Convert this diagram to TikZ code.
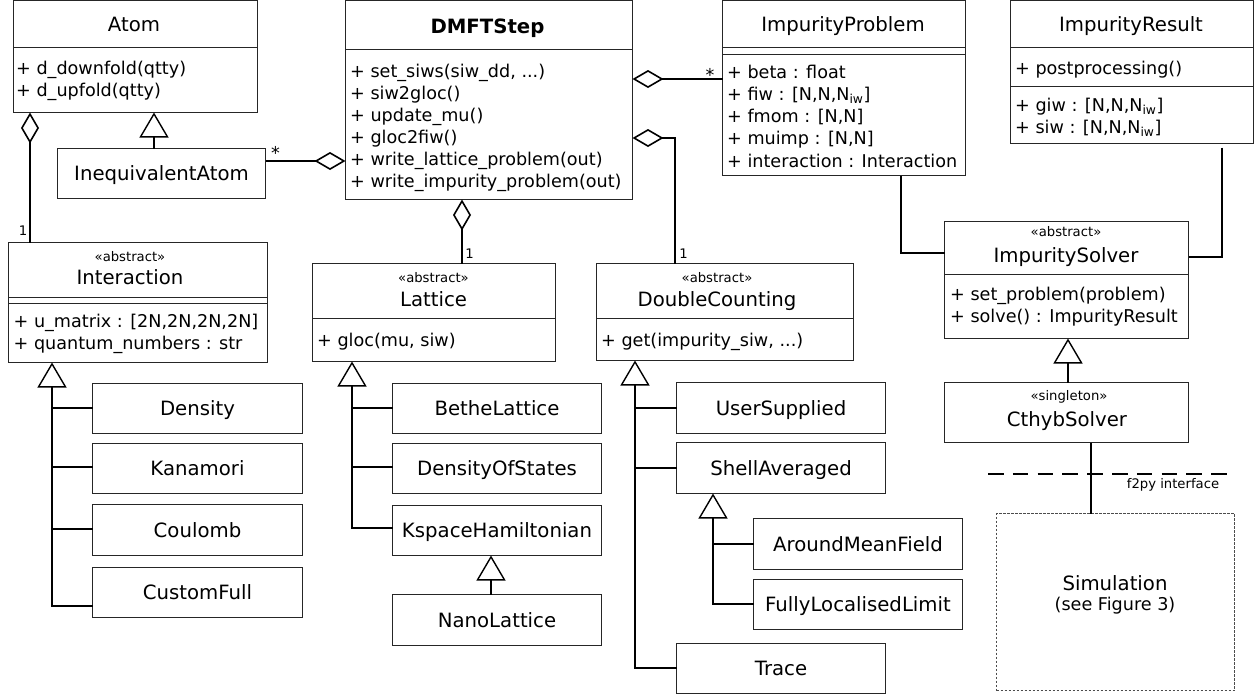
\documentclass[tikz,border=0pt]{standalone}
\usepackage{fontspec}
\setmainfont{DejaVu Sans}
\usetikzlibrary{arrows.meta}
\newcommand\fTitle{\fontsize{19.7}{23}\selectfont}
\newcommand\fMem{\fontsize{17.6}{22}\selectfont}
\newcommand\fSmall{\fontsize{13.2}{15}\selectfont}
\newcommand\bx[7]{\node[#7, anchor=north west, minimum width={(#4)-(#2)}, minimum height={(#5)-(#3)}] (#1) at ({#2+0.5},{#3+0.5}) {#6};}
\begin{document}
\begin{tikzpicture}[x=1pt,y=-1pt,
  box/.style={draw=black!85, line width=1pt, inner sep=0pt, outer sep=0pt},
  sbox/.style={box, font=\fTitle, text height=14.3pt, text depth=0pt},
  simbox/.style={draw=black!70, line width=1pt, dash pattern=on 2.5pt off 1.5pt, inner sep=0pt, outer sep=0pt},
  divl/.style={draw=black!85, line width=1pt},
  ttl/.style={font=\fTitle, inner sep=0pt, anchor=base},
  stereo/.style={font=\fSmall, inner sep=0pt, anchor=base},
  mem/.style={font=\fMem, inner sep=0pt, anchor=base west},
  mult/.style={font=\fSmall, inner sep=0pt, anchor=base},
  conn/.style={draw=black, line width=2pt},
  agg/.style={conn, {Diamond[fill=white,length=31pt,width=18pt,line width=1.6pt]}-},
  gen/.style={conn, -{Triangle[fill=white,length=25pt,width=29pt,line width=1.4pt]}},
  f2py/.style={draw=black, line width=2pt, dash pattern=on 15.6pt off 9.2pt},
]
\useasboundingbox (0,0) rectangle (1258,696);

% ---------- class boxes ----------
\bx{atom}{13}{0}{257}{112}{}{box}
\bx{ineq}{57}{148}{265}{198}{InequivalentAtom}{sbox}
\bx{dmft}{345}{0}{632}{199}{}{box}
\bx{impprob}{722}{0}{965}{175}{}{box}
\bx{impres}{1010}{0}{1253}{143}{}{box}
\bx{inter}{8}{242}{267}{362}{}{box}
\bx{lattice}{312}{263}{555}{361}{}{box}
\bx{dc}{596}{263}{853}{360}{}{box}
\bx{impsolver}{944}{221}{1188}{338}{}{box}
\bx{cthyb}{944}{382}{1188}{442}{}{box}
\bx{sim}{996}{513}{1234}{690}{}{simbox}
\bx{density}{92}{383}{302}{433}{Density}{sbox}
\bx{kanamori}{92}{443}{302}{493}{Kanamori}{sbox}
\bx{coulomb}{92}{504}{302}{555}{Coulomb}{sbox}
\bx{custom}{92}{567}{302}{617}{CustomFull}{sbox}
\bx{bethe}{392}{383}{601}{433}{BetheLattice}{sbox}
\bx{dos}{392}{443}{601}{493}{DensityOfStates}{sbox}
\bx{kspace}{392}{505}{601}{555}{KspaceHamiltonian}{sbox}
\bx{nano}{392}{594}{601}{645}{NanoLattice}{sbox}
\bx{user}{676}{382}{885}{433}{UserSupplied}{sbox}
\bx{shell}{676}{442}{885}{493}{ShellAveraged}{sbox}
\bx{amf}{753}{518}{962}{569}{AroundMeanField}{sbox}
\bx{fll}{753}{579}{962}{629}{FullyLocalisedLimit}{sbox}
\bx{trace}{676}{643}{885}{693}{Trace}{sbox}

% trunk coordinates of the inheritance trees
\coordinate (tr-inter) at (52,362);
\coordinate (tr-lat) at (352,361);
\coordinate (tr-dc) at (635,360);
\coordinate (tr-shell) at (713,493);

% ---------- compartment dividers ----------
\draw[divl] (atom.west |- 0,47.5) -- (atom.east |- 0,47.5);
\draw[divl] (dmft.west |- 0,49.5) -- (dmft.east |- 0,49.5);
\draw[divl] (impprob.west |- 0,47.5) -- (impprob.east |- 0,47.5);
\draw[divl] (impprob.west |- 0,54.5) -- (impprob.east |- 0,54.5);
\draw[divl] (impres.west |- 0,47.5) -- (impres.east |- 0,47.5);
\draw[divl] (impres.west |- 0,86.5) -- (impres.east |- 0,86.5);
\draw[divl] (inter.west |- 0,297.5) -- (inter.east |- 0,297.5);
\draw[divl] (inter.west |- 0,303.5) -- (inter.east |- 0,303.5);
\draw[divl] (lattice.west |- 0,318.5) -- (lattice.east |- 0,318.5);
\draw[divl] (dc.west |- 0,318.5) -- (dc.east |- 0,318.5);
\draw[divl] (impsolver.west |- 0,274.5) -- (impsolver.east |- 0,274.5);

% ---------- headers ----------
\node[ttl] (atom-t) at (134,31.5) {Atom};
\node[ttl] (dmft-t) at (487.5,33) {\bfseries DMFTStep};
\node[ttl] (impprob-t) at (843,31.7) {ImpurityProblem};
\node[ttl] (impres-t) at (1131,31.7) {ImpurityResult};
\node[stereo] (inter-s) at (130,261) {«abstract»};
\node[ttl] (inter-t) at (130,284.5) {Interaction};
\node[stereo] (lattice-s) at (433.5,282) {«abstract»};
\node[ttl] (lattice-t) at (433.5,306.5) {Lattice};
\node[stereo] (dc-s) at (717,282) {«abstract»};
\node[ttl] (dc-t) at (717,306.5) {DoubleCounting};
\node[stereo] (impsolver-s) at (1066,236.5) {«abstract»};
\node[ttl] (impsolver-t) at (1066,262.5) {ImpuritySolver};
\node[stereo] (cthyb-s) at (1069,400.5) {«singleton»};
\node[ttl] (cthyb-t) at (1067,426.5) {CthybSolver};
\node[ttl] (sim-t) at (1115,590) {Simulation};
\node[mem, anchor=base] (sim-n) at (1115,610) {(see Figure 3)};

% ---------- members ----------
\node[mem] (atom-m1) at (16,74.5) {+ d\_downfold(qtty)};
\node[mem] (atom-m2) at (16,96.5) {+ d\_upfold(qtty)};

\node[mem] (dmft-m1) at (350,77.5) {+ set\_siws(siw\_dd, ...)};
\node[mem] (dmft-m2) at (350,99.5) {+ siw2gloc()};
\node[mem] (dmft-m3) at (350,121.5) {+ update\_mu()};
\node[mem] (dmft-m4) at (350,143.5) {+ gloc2fiw()};
\node[mem] (dmft-m5) at (350,165.5) {+ write\_lattice\_problem(out)};
\node[mem] (dmft-m6) at (350,187.5) {+ write\_impurity\_problem(out)};

\node[mem] (impprob-m1) at (727,78.3) {+ beta : float};
\node[mem] (impprob-m2) at (727,100.5) {+ fiw : [N,N,N\textsubscript{iw}]};
\node[mem] (impprob-m3) at (727,122.7) {+ fmom : [N,N]};
\node[mem] (impprob-m4) at (727,144.9) {+ muimp : [N,N]};
\node[mem] (impprob-m5) at (727,167.1) {+ interaction : Interaction};

\node[mem] (impres-m1) at (1015,74) {+ postprocessing()};
\node[mem] (impres-m2) at (1015,111) {+ giw : [N,N,N\textsubscript{iw}]};
\node[mem] (impres-m3) at (1015,133.3) {+ siw : [N,N,N\textsubscript{iw}]};

\node[mem] (inter-m1) at (13.5,327) {+ u\_matrix : [2N,2N,2N,2N]};
\node[mem] (inter-m2) at (13.5,349) {+ quantum\_numbers : str};

\node[mem] (lattice-m1) at (317,346) {+ gloc(mu, siw)};
\node[mem] (dc-m1) at (601,346) {+ get(impurity\_siw, ...)};

\node[mem] (impsolver-m1) at (950,300.5) {+ set\_problem(problem)};
\node[mem] (impsolver-m2) at (950,322) {+ solve() : ImpurityResult};

% ---------- associations ----------
\draw[agg] (atom.south -| 30,0) -- (inter.north -| 30,0);
\draw[gen] (ineq.north -| 154,0) -- (atom.south -| 154,0);
\draw[agg] (dmft.west |- 0,161) -- (ineq.east |- 0,161);
\draw[agg] (dmft.east |- 0,79) -- (impprob.west |- 0,79);
\draw[agg] (dmft.east |- 0,138) -| (dc.north -| 675,0);
\draw[agg] (dmft.south -| 462,0) -- (lattice.north -| 462,0);
\draw[conn] (impprob.south -| 901,0) |- (impsolver.west |- 0,253);
\draw[conn, shorten <=4pt] (impres.south -| 1222,0) |- (impsolver.east |- 0,257);
\draw[gen] (cthyb.north -| 1068,0) -- (impsolver.south -| 1068,0);
\draw[conn] (cthyb.south -| 1091,0) -- (sim.north -| 1091,0);

% multiplicities
\node[mult] (m-atom) at (23,235) {1};
\node[mult, font=\fMem] (m-ineq) at (275.5,159) {*};
\node[mult, font=\fMem] (m-prob) at (710,81) {*};
\node[mult] (m-lat) at (469.5,258) {1};
\node[mult] (m-dc) at (683.5,258) {1};

% ---------- inheritance trees ----------
\draw[gen] (custom.west |- 0,606) -| (inter.south -| tr-inter);
\draw[conn] (density.west |- 0,408) -- (tr-inter |- 0,408);
\draw[conn] (kanamori.west |- 0,467) -- (tr-inter |- 0,467);
\draw[conn] (coulomb.west |- 0,529) -- (tr-inter |- 0,529);

\draw[gen] (kspace.west |- 0,528) -| (lattice.south -| tr-lat);
\draw[conn] (bethe.west |- 0,408) -- (tr-lat |- 0,408);
\draw[conn] (dos.west |- 0,467) -- (tr-lat |- 0,467);
\draw[gen] (nano.north -| 491,0) -- (kspace.south -| 491,0);

\draw[gen] (trace.west |- 0,668) -| (dc.south -| tr-dc);
\draw[conn] (user.west |- 0,408) -- (tr-dc |- 0,408);
\draw[conn] (shell.west |- 0,468) -- (tr-dc |- 0,468);

\draw[gen] (fll.west |- 0,604) -| (shell.south -| tr-shell);
\draw[conn] (amf.west |- 0,544) -- (tr-shell |- 0,544);

% ---------- f2py boundary ----------
\coordinate (f2l) at (988,474);
\coordinate (f2r) at (1232,474);
\draw[f2py] (f2l) -- (f2r);
\node[stereo] (f2py-t) at (1173,488) {f2py interface};
\end{tikzpicture}
\end{document}
